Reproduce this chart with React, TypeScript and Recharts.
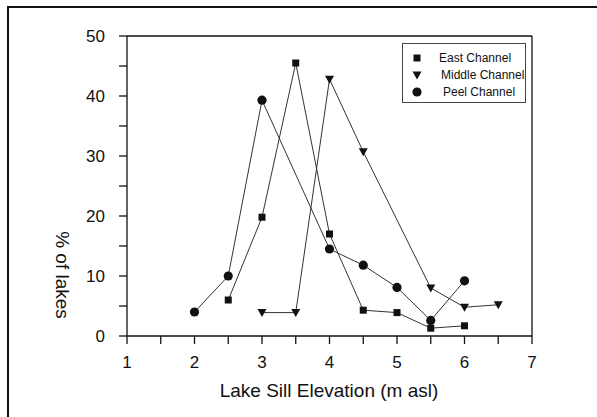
import React from 'react';
import {
  LineChart,
  Line,
  XAxis,
  YAxis,
  ReferenceLine,
} from 'recharts';

// lake sill elevation (m asl) vs % of lakes
const eastX = [2.5, 3, 3.5, 4, 4.5, 5, 5.5, 6];
const eastY = [6, 19.8, 45.5, 17, 4.3, 3.9, 1.3, 1.7];

const middleX = [3, 3.5, 4, 4.5, 5.5, 6, 6.5];
const middleY = [3.9, 3.9, 42.8, 30.7, 8, 4.8, 5.2];

const peelX = [2, 2.5, 3, 4, 4.5, 5, 5.5, 6];
const peelY = [4, 10, 39.3, 14.5, 11.8, 8.1, 2.6, 9.2];

const seriesNames = ['East Channel', 'Middle Channel', 'Peel Channel'];

const xTicks = [1, 1.5, 2, 2.5, 3, 3.5, 4, 4.5, 5, 5.5, 6, 6.5, 7];
const yTicks = [0, 5, 10, 15, 20, 25, 30, 35, 40, 45, 50];

const toPoints = (xs: number[], ys: number[]) => xs.map((x, i) => ({ x, y: ys[i] }));

const eastData = toPoints(eastX, eastY);
const middleData = toPoints(middleX, middleY);
const peelData = toPoints(peelX, peelY);

const INK = '#111';
const FONT = '"Liberation Sans", Arial, sans-serif';

function Square({ cx, cy }: { cx: number; cy: number }) {
  return <rect x={cx - 3.5} y={cy - 3.5} width={7} height={7} fill={INK} />;
}

function TriDown({ cx, cy }: { cx: number; cy: number }) {
  return (
    <polygon
      points={`${cx - 4.5},${cy - 3.5} ${cx + 4.5},${cy - 3.5} ${cx},${cy + 4.5}`}
      fill={INK}
    />
  );
}

function Dot({ cx, cy }: { cx: number; cy: number }) {
  return <circle cx={cx} cy={cy} r={4.6} fill={INK} />;
}

const markers = [Square, TriDown, Dot];

// legend drawn outside the chart so it doesn't eat plot space
function LegendBox() {
  return (
    <div
      style={{
        position: 'absolute',
        left: 402,
        top: 43,
        width: 124,
        height: 60,
        border: '1px solid #444',
        background: '#fff',
        fontFamily: FONT,
        fontSize: 12,
        color: INK,
        paddingTop: 5,
        boxSizing: 'border-box',
      }}
    >
      {seriesNames.map((name, i) => {
        const Shape = markers[i];
        return (
          <div key={name} style={{ display: 'flex', alignItems: 'center', height: 17 }}>
            <svg width={36 + i * 2} height={14} style={{ flex: 'none' }}>
              <Shape cx={14} cy={7} />
            </svg>
            <span>{name}</span>
          </div>
        );
      })}
    </div>
  );
}

const tickStyle = { fontFamily: FONT, fontSize: 17, fill: INK };
const majorLabel = (v: number) => (Number.isInteger(v) && v % 10 === 0 ? String(v) : '');

export default function App() {
  return (
    <div
      style={{
        position: 'absolute',
        left: 0,
        top: 0,
        width: 597,
        height: 417,
        overflow: 'hidden',
        background: '#fff',
      }}
    >
      {/* scanned page frame: only top and left edges show */}
      <div style={{ position: 'absolute', left: 7, top: 6, width: 590, height: 2, background: INK }} />
      <div style={{ position: 'absolute', left: 7, top: 6, width: 2, height: 411, background: INK }} />
      <div style={{ position: 'absolute', left: 0, top: 0 }}>
        <LineChart
          width={597}
          height={417}
          margin={{ top: 36, right: 65, bottom: 51, left: 0 }}
        >
          <XAxis
            type="number"
            dataKey="x"
            domain={[1, 7]}
            ticks={xTicks}
            tickFormatter={(v: number) => (Number.isInteger(v) ? String(v) : '')}
            tick={tickStyle}
            tickSize={8}
            tickMargin={12}
            height={30}
            stroke={INK}
            strokeWidth={1.3}
            allowDuplicatedCategory={false}
            label={{
              content: () => (
                <text
                  x={329}
                  y={397}
                  textAnchor="middle"
                  fontFamily={FONT}
                  fontSize={19}
                  fill={INK}
                >
                  Lake Sill Elevation (m asl)
                </text>
              ),
            }}
          />
          <YAxis
            type="number"
            domain={[0, 50]}
            ticks={yTicks}
            tickFormatter={majorLabel}
            tick={tickStyle}
            tickSize={8}
            tickMargin={14}
            width={127}
            stroke={INK}
            strokeWidth={1.3}
            label={{
              content: () => (
                <text
                  x={62}
                  y={275}
                  textAnchor="middle"
                  dominantBaseline="central"
                  transform="rotate(90 62 275)"
                  fontFamily={FONT}
                  fontSize={19}
                  fill={INK}
                >
                  % of lakes
                </text>
              ),
            }}
          />
          <ReferenceLine y={50} stroke={INK} strokeWidth={1.3} />
          <ReferenceLine x={7} stroke={INK} strokeWidth={1.3} />
          <Line
            data={eastData}
            dataKey="y"
            name={seriesNames[0]}
            stroke="#333"
            strokeWidth={1}
            dot={(p: any) => <Square key={`e${p.index}`} cx={p.cx} cy={p.cy} />}
            isAnimationActive={false}
          />
          <Line
            data={middleData}
            dataKey="y"
            name={seriesNames[1]}
            stroke="#333"
            strokeWidth={1}
            dot={(p: any) => <TriDown key={`m${p.index}`} cx={p.cx} cy={p.cy} />}
            isAnimationActive={false}
          />
          <Line
            data={peelData}
            dataKey="y"
            name={seriesNames[2]}
            stroke="#333"
            strokeWidth={1}
            dot={(p: any) => <Dot key={`p${p.index}`} cx={p.cx} cy={p.cy} />}
            isAnimationActive={false}
          />
        </LineChart>
      </div>
      <LegendBox />
    </div>
  );
}
